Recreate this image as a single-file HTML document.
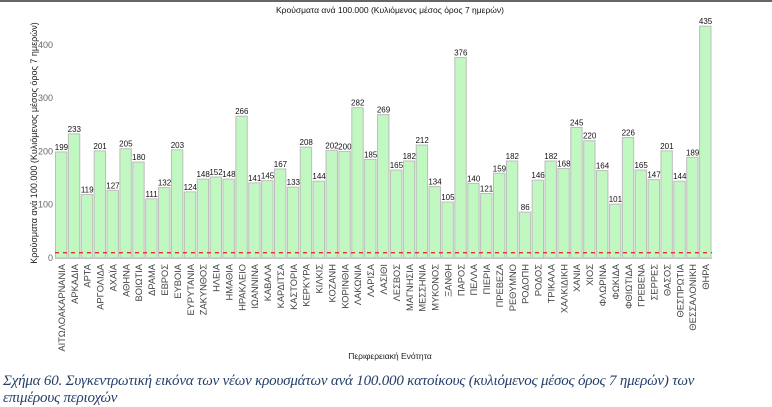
<!DOCTYPE html>
<html><head><meta charset="utf-8"><style>
html,body{margin:0;padding:0;background:#fff;width:772px;height:405px;overflow:hidden}
svg{display:block}
.cap{position:absolute;left:3px;top:373px;width:718px;font-family:"Liberation Serif",serif;font-style:italic;font-size:15px;line-height:17px;color:#243f6b;letter-spacing:-0.2px}
</style></head><body>
<div style="position:absolute;left:0;top:0;width:772px;height:2px;background:#666"></div>
<svg id="chart" width="772" height="370"></svg>
<div class="cap">Σχήμα 60. Συγκεντρωτική εικόνα των νέων κρουσμάτων ανά 100.000 κατοίκους (κυλιόμενος μέσος όρος 7 ημερών) των επιμέρους περιοχών</div>
<script>
const categories=["ΑΙΤΩΛΟΑΚΑΡΝΑΝΙΑ","ΑΡΚΑΔΙΑ","ΑΡΤΑ","ΑΡΓΟΛΙΔΑ","ΑΧΑΪΑ","ΑΘΗΝΑ","ΒΟΙΩΤΙΑ","ΔΡΑΜΑ","ΕΒΡΟΣ","ΕΥΒΟΙΑ","ΕΥΡΥΤΑΝΙΑ","ΖΑΚΥΝΘΟΣ","ΗΛΕΙΑ","ΗΜΑΘΙΑ","ΗΡΑΚΛΕΙΟ","ΙΩΑΝΝΙΝΑ","ΚΑΒΑΛΑ","ΚΑΡΔΙΤΣΑ","ΚΑΣΤΟΡΙΑ","ΚΕΡΚΥΡΑ","ΚΙΛΚΙΣ","ΚΟΖΑΝΗ","ΚΟΡΙΝΘΙΑ","ΛΑΚΩΝΙΑ","ΛΑΡΙΣΑ","ΛΑΣΙΘΙ","ΛΕΣΒΟΣ","ΜΑΓΝΗΣΙΑ","ΜΕΣΣΗΝΙΑ","ΜΥΚΟΝΟΣ","ΞΑΝΘΗ","ΠΑΡΟΣ","ΠΕΛΛΑ","ΠΙΕΡΙΑ","ΠΡΕΒΕΖΑ","ΡΕΘΥΜΝΟ","ΡΟΔΟΠΗ","ΡΟΔΟΣ","ΤΡΙΚΑΛΑ","ΧΑΛΚΙΔΙΚΗ","ΧΑΝΙΑ","ΧΙΟΣ","ΦΛΩΡΙΝΑ","ΦΩΚΙΔΑ","ΦΘΙΩΤΙΔΑ","ΓΡΕΒΕΝΑ","ΣΕΡΡΕΣ","ΘΑΣΟΣ","ΘΕΣΠΡΩΤΙΑ","ΘΕΣΣΑΛΟΝΙΚΗ","ΘΗΡΑ"];
const values=[199,233,119,201,127,205,180,111,132,203,124,148,152,148,266,141,145,167,133,208,144,202,200,282,185,269,165,182,212,134,105,376,140,121,159,182,86,146,182,168,245,220,164,101,226,165,147,201,144,189,435];
const yTicks=[0,100,200,300,400];
const threshold=[10];
const NS="http://www.w3.org/2000/svg";
const svg=document.getElementById('chart');
const x0=55,x1=712,y0=258,pxPer=53.3/100;
const step=(x1-x0)/categories.length;
const xs=i=>x0+i*step;
const ys=v=>y0-v*pxPer;
function mk(t,a){const e=document.createElementNS(NS,t);for(const k in a)e.setAttribute(k,a[k]);svg.appendChild(e);return e;}
const F='"Liberation Sans","Noto Sans CJK SC",sans-serif';
let t=mk('text',{x:390,y:13,'text-anchor':'middle','font-size':'8.5','font-family':F,fill:'#111'});t.textContent='Κρούσματα ανά 100.000 (Κυλιόμενος μέσος όρος 7 ημερών)';


t=mk('text',{x:0,y:0,'text-anchor':'middle','font-size':'9','font-family':F,fill:'#222',transform:'translate(37,143) rotate(-90)'});t.textContent='Κρούσματα ανά 100.000 (Κυλιόμενος μέσος όρος 7 ημερών)';


yTicks.forEach(v=>{const e=mk('text',{x:53,y:ys(v)+3,'text-anchor':'end','font-size':'9','font-family':F,fill:'#666'});e.textContent=v;

});
mk('line',{x1:x0,x2:x1,y1:y0+0.5,y2:y0+0.5,stroke:'#ccc','stroke-width':1});
values.forEach((v,i)=>{
 const r=mk('rect',{x:xs(i)+0.5,y:ys(v),width:step-1.5,height:y0-ys(v),fill:'#c1f7c1',stroke:'#bdbdbd','stroke-width':1});
 
 
 const l=mk('text',{x:xs(i)+step/2,y:ys(v)-2,'text-anchor':'middle','font-size':'8','font-family':F,fill:'#111'});l.textContent=v;
 
 
 const c=mk('text',{x:0,y:0,'text-anchor':'end','font-size':'9.3','font-family':F,fill:'#444',transform:`translate(${xs(i)+step/2+3.5},264) rotate(-90)`});c.textContent=categories[i];
 
 
});
threshold.forEach(v=>{const d=mk('line',{x1:x0,x2:x1,y1:ys(v),y2:ys(v),stroke:'#e53030','stroke-width':1.3,'stroke-dasharray':'4,4'});

});
t=mk('text',{x:390,y:359,'text-anchor':'middle','font-size':'8.5','font-family':F,fill:'#222'});t.textContent='Περιφερειακή Ενότητα';


</script>
</body></html>
